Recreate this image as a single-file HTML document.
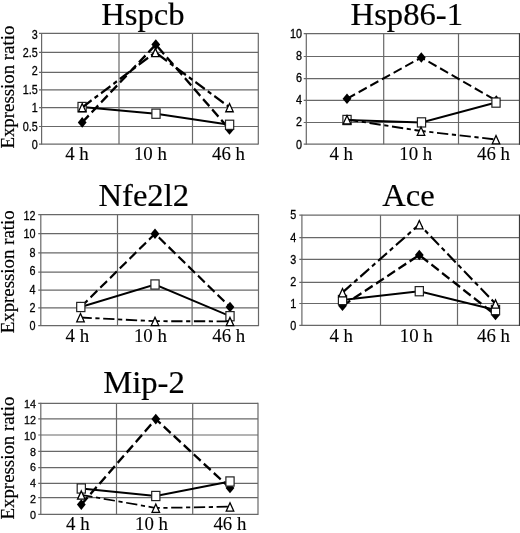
<!DOCTYPE html><html><head><meta charset="utf-8"><title>chart</title><style>html,body{margin:0;padding:0;background:#fff}svg{display:block;filter:grayscale(1)}text{fill:#000}.bd{stroke:#000;stroke-width:.2px}.bx{stroke:#000;stroke-width:.1px}.tk text{stroke:#000;stroke-width:.25px}.se{font-family:"Liberation Serif",serif}.sa{font-family:"Liberation Sans",sans-serif}</style></head><body>
<svg width="520" height="533" viewBox="0 0 520 533">
<rect width="520" height="533" fill="#fff"/>
<g stroke="#686868" stroke-width="1.2" fill="none">
<line x1="39.0" y1="144.10" x2="258.3" y2="144.10"/>
<line x1="39.0" y1="126.50" x2="258.3" y2="126.50"/>
<line x1="39.0" y1="107.60" x2="258.3" y2="107.60"/>
<line x1="39.0" y1="89.90" x2="258.3" y2="89.90"/>
<line x1="39.0" y1="72.30" x2="258.3" y2="72.30"/>
<line x1="39.0" y1="52.40" x2="258.3" y2="52.40"/>
<line x1="39.0" y1="33.40" x2="258.3" y2="33.40"/>
<line x1="41.6" y1="32.9" x2="41.6" y2="144.6"/>
<line x1="119.0" y1="33.4" x2="119.0" y2="144.1"/>
<line x1="192.5" y1="33.4" x2="192.5" y2="144.1"/>
<line x1="258.3" y1="32.9" x2="258.3" y2="144.6"/>
</g>
<g class="sa tk" font-size="10.8" text-anchor="end">
<text transform="translate(37.8,149.07) scale(1,1.17)">0</text>
<text transform="translate(37.8,130.67) scale(1,1.17)">0.5</text>
<text transform="translate(37.8,112.26) scale(1,1.17)">1</text>
<text transform="translate(37.8,93.85) scale(1,1.17)">1.5</text>
<text transform="translate(37.8,75.44) scale(1,1.17)">2</text>
<text transform="translate(37.8,57.03) scale(1,1.17)">2.5</text>
<text transform="translate(37.8,38.62) scale(1,1.17)">3</text>
</g>
<text class="se bd" transform="translate(142.9,25) scale(1.02,1)" font-size="32" text-anchor="middle">Hspcb</text>
<text class="se bx" transform="translate(77,160.0) scale(1.048,1)" font-size="18" text-anchor="middle">4 h</text>
<text class="se bx" transform="translate(150.4,160.0) scale(1.048,1)" font-size="18" text-anchor="middle">10 h</text>
<text class="se bx" transform="translate(228.5,160.0) scale(1.048,1)" font-size="18" text-anchor="middle">46 h</text>
<text class="se bd" transform="translate(14.3,148.6) rotate(-90)" font-size="18.85">Expression ratio</text>
<g transform="scale(1,1.12)"><polyline points="82.2,109.29 155.8,39.82 229.5,115.54" fill="none" stroke="#000" stroke-width="2.26" stroke-dasharray="9 4"/></g>
<path d="M82.2,117.1 L86.6,122.4 L82.2,127.7 L77.8,122.4Z" fill="#000"/>
<path d="M155.8,39.3 L160.2,44.6 L155.8,49.9 L151.4,44.6Z" fill="#000"/>
<path d="M229.5,124.1 L233.9,129.4 L229.5,134.7 L225.1,129.4Z" fill="#000"/>
<g transform="scale(1,1.12)"><polyline points="82.1,95.54 156.0,101.52 229.6,111.43" fill="none" stroke="#000" stroke-width="1.73"/></g>
<rect x="78.00" y="102.40" width="8.2" height="9.2" fill="#fff" stroke="#222" stroke-width="1.2"/>
<rect x="151.90" y="109.10" width="8.2" height="9.2" fill="#fff" stroke="#222" stroke-width="1.2"/>
<rect x="225.50" y="120.20" width="8.2" height="9.2" fill="#fff" stroke="#222" stroke-width="1.2"/>
<g transform="scale(1,1.12)"><polyline points="82.2,95.89 155.4,46.70 229.5,95.89" fill="none" stroke="#000" stroke-width="2.13" stroke-dasharray="11.3 3.6 4.2 3.6"/></g>
<path d="M82.2,103.5 L85.95,111.75 L78.45,111.75Z" fill="#fff" stroke="#000" stroke-width="1.3"/>
<path d="M155.4,48.4 L159.15,56.65 L151.65,56.65Z" fill="#fff" stroke="#000" stroke-width="1.3"/>
<path d="M229.5,103.5 L233.25,111.75 L225.75,111.75Z" fill="#fff" stroke="#000" stroke-width="1.3"/>
<g stroke="#686868" stroke-width="1.2" fill="none">
<line x1="303.7" y1="144.15" x2="520.0" y2="144.15"/>
<line x1="303.7" y1="122.50" x2="520.0" y2="122.50"/>
<line x1="303.7" y1="100.30" x2="520.0" y2="100.30"/>
<line x1="303.7" y1="78.70" x2="520.0" y2="78.70"/>
<line x1="303.7" y1="56.50" x2="520.0" y2="56.50"/>
<line x1="303.7" y1="33.70" x2="520.0" y2="33.70"/>
<line x1="306.3" y1="33.2" x2="306.3" y2="144.65"/>
<line x1="383.7" y1="33.7" x2="383.7" y2="144.15"/>
<line x1="458.5" y1="33.7" x2="458.5" y2="144.15"/>
<line x1="519.5" y1="33.2" x2="519.5" y2="144.65" stroke="#3a3a3a" stroke-width="1.2"/>
</g>
<g class="sa tk" font-size="10.8" text-anchor="end">
<text transform="translate(302.1,148.52) scale(1,1.17)">0</text>
<text transform="translate(302.1,126.47) scale(1,1.17)">2</text>
<text transform="translate(302.1,104.42) scale(1,1.17)">4</text>
<text transform="translate(302.1,82.37) scale(1,1.17)">6</text>
<text transform="translate(302.1,60.32) scale(1,1.17)">8</text>
<text transform="translate(302.1,38.27) scale(1,1.17)">10</text>
</g>
<text class="se bd" transform="translate(406.8,25) scale(1.02,1)" font-size="32" text-anchor="middle">Hsp86-1</text>
<text class="se bx" transform="translate(341.2,160.0) scale(1.048,1)" font-size="18" text-anchor="middle">4 h</text>
<text class="se bx" transform="translate(415.7,160.0) scale(1.048,1)" font-size="18" text-anchor="middle">10 h</text>
<text class="se bx" transform="translate(493.5,160.0) scale(1.048,1)" font-size="18" text-anchor="middle">46 h</text>
<g transform="scale(1,1.12)"><polyline points="347.0,88.12 421.3,51.34 496.3,89.82" fill="none" stroke="#000" stroke-width="1.89" stroke-dasharray="9 4"/></g>
<path d="M347.0,93.4 L351.4,98.7 L347.0,104.0 L342.6,98.7Z" fill="#000"/>
<path d="M421.3,52.2 L425.7,57.5 L421.3,62.8 L416.9,57.5Z" fill="#000"/>
<path d="M496.3,95.3 L500.7,100.6 L496.3,105.9 L491.9,100.6Z" fill="#000"/>
<g transform="scale(1,1.12)"><polyline points="347.0,107.14 421.5,109.29 496.0,91.61" fill="none" stroke="#000" stroke-width="1.82"/></g>
<rect x="342.90" y="115.40" width="8.2" height="9.2" fill="#fff" stroke="#222" stroke-width="1.2"/>
<rect x="417.40" y="117.80" width="8.2" height="9.2" fill="#fff" stroke="#222" stroke-width="1.2"/>
<rect x="491.90" y="98.00" width="8.2" height="9.2" fill="#fff" stroke="#222" stroke-width="1.2"/>
<g transform="scale(1,1.12)"><polyline points="347.0,106.70 421.0,116.96 496.0,124.55" fill="none" stroke="#000" stroke-width="1.67" stroke-dasharray="11.3 3.6 4.2 3.6"/></g>
<path d="M347.0,115.6 L350.75,123.85 L343.25,123.85Z" fill="#fff" stroke="#000" stroke-width="1.3"/>
<path d="M421.0,127.1 L424.75,135.35 L417.25,135.35Z" fill="#fff" stroke="#000" stroke-width="1.3"/>
<path d="M496.0,135.6 L499.75,143.85 L492.25,143.85Z" fill="#fff" stroke="#000" stroke-width="1.3"/>
<g stroke="#686868" stroke-width="1.2" fill="none">
<line x1="38.2" y1="325.60" x2="258.5" y2="325.60"/>
<line x1="38.2" y1="307.90" x2="258.5" y2="307.90"/>
<line x1="38.2" y1="290.20" x2="258.5" y2="290.20"/>
<line x1="38.2" y1="272.10" x2="258.5" y2="272.10"/>
<line x1="38.2" y1="252.95" x2="258.5" y2="252.95"/>
<line x1="38.2" y1="233.70" x2="258.5" y2="233.70"/>
<line x1="38.2" y1="214.65" x2="258.5" y2="214.65"/>
<line x1="40.8" y1="214.15" x2="40.8" y2="326.1"/>
<line x1="117.5" y1="214.65" x2="117.5" y2="325.6"/>
<line x1="192.1" y1="214.65" x2="192.1" y2="325.6"/>
<line x1="258.5" y1="214.15" x2="258.5" y2="326.1"/>
</g>
<g class="sa tk" font-size="10.8" text-anchor="end">
<text transform="translate(35.5,330.42) scale(1,1.17)">0</text>
<text transform="translate(35.5,312.02) scale(1,1.17)">2</text>
<text transform="translate(35.5,293.62) scale(1,1.17)">4</text>
<text transform="translate(35.5,275.22) scale(1,1.17)">6</text>
<text transform="translate(35.5,256.82) scale(1,1.17)">8</text>
<text transform="translate(35.5,238.42) scale(1,1.17)">10</text>
<text transform="translate(35.5,220.02) scale(1,1.17)">12</text>
</g>
<text class="se bd" transform="translate(143.75,206.2) scale(1.02,1)" font-size="32" text-anchor="middle">Nfe2l2</text>
<text class="se bx" transform="translate(77.4,341.9) scale(1.048,1)" font-size="18" text-anchor="middle">4 h</text>
<text class="se bx" transform="translate(150.4,341.9) scale(1.048,1)" font-size="18" text-anchor="middle">10 h</text>
<text class="se bx" transform="translate(228.7,341.9) scale(1.048,1)" font-size="18" text-anchor="middle">46 h</text>
<text class="se bd" transform="translate(14.3,333.3) rotate(-90)" font-size="18.85">Expression ratio</text>
<g transform="scale(1,1.12)"><polyline points="80.8,274.11 155.0,208.66 230.0,274.11" fill="none" stroke="#000" stroke-width="2.08" stroke-dasharray="9 4"/></g>
<path d="M80.8,301.7 L85.2,307.0 L80.8,312.3 L76.4,307.0Z" fill="#000"/>
<path d="M155.0,228.4 L159.4,233.7 L155.0,239.0 L150.6,233.7Z" fill="#000"/>
<path d="M230.0,301.7 L234.4,307.0 L230.0,312.3 L225.6,307.0Z" fill="#000"/>
<g transform="scale(1,1.12)"><polyline points="80.8,274.11 155.0,254.02 230.0,282.32" fill="none" stroke="#000" stroke-width="1.73"/></g>
<rect x="76.70" y="302.40" width="8.2" height="9.2" fill="#fff" stroke="#222" stroke-width="1.2"/>
<rect x="150.90" y="279.90" width="8.2" height="9.2" fill="#fff" stroke="#222" stroke-width="1.2"/>
<rect x="225.90" y="311.60" width="8.2" height="9.2" fill="#fff" stroke="#222" stroke-width="1.2"/>
<g transform="scale(1,1.12)"><polyline points="80.5,283.48 155.0,286.79 230.0,286.88" fill="none" stroke="#000" stroke-width="1.62" stroke-dasharray="11.3 3.6 4.2 3.6"/></g>
<path d="M80.5,313.6 L84.25,321.85 L76.75,321.85Z" fill="#fff" stroke="#000" stroke-width="1.3"/>
<path d="M155.0,317.3 L158.75,325.55 L151.25,325.55Z" fill="#fff" stroke="#000" stroke-width="1.3"/>
<path d="M230.0,317.4 L233.75,325.65 L226.25,325.65Z" fill="#fff" stroke="#000" stroke-width="1.3"/>
<g stroke="#686868" stroke-width="1.2" fill="none">
<line x1="299.3" y1="325.40" x2="520.0" y2="325.40"/>
<line x1="299.3" y1="303.50" x2="520.0" y2="303.50"/>
<line x1="299.3" y1="282.40" x2="520.0" y2="282.40"/>
<line x1="299.3" y1="259.40" x2="520.0" y2="259.40"/>
<line x1="299.3" y1="237.70" x2="520.0" y2="237.70"/>
<line x1="299.3" y1="215.20" x2="520.0" y2="215.20"/>
<line x1="301.9" y1="214.7" x2="301.9" y2="325.9"/>
<line x1="380.5" y1="215.2" x2="380.5" y2="325.4"/>
<line x1="457.5" y1="215.2" x2="457.5" y2="325.4"/>
<line x1="519.5" y1="214.7" x2="519.5" y2="325.9" stroke="#3a3a3a" stroke-width="1.2"/>
</g>
<g class="sa tk" font-size="10.8" text-anchor="end">
<text transform="translate(296.3,330.22) scale(1,1.17)">0</text>
<text transform="translate(296.3,308.04) scale(1,1.17)">1</text>
<text transform="translate(296.3,285.86) scale(1,1.17)">2</text>
<text transform="translate(296.3,263.68) scale(1,1.17)">3</text>
<text transform="translate(296.3,241.50) scale(1,1.17)">4</text>
<text transform="translate(296.3,219.32) scale(1,1.17)">5</text>
</g>
<text class="se bd" transform="translate(408.5,205.8) scale(1.02,1)" font-size="32" text-anchor="middle">Ace</text>
<text class="se bx" transform="translate(341.2,341.9) scale(1.048,1)" font-size="18" text-anchor="middle">4 h</text>
<text class="se bx" transform="translate(416.3,341.9) scale(1.048,1)" font-size="18" text-anchor="middle">10 h</text>
<text class="se bx" transform="translate(493.5,341.9) scale(1.048,1)" font-size="18" text-anchor="middle">46 h</text>
<g transform="scale(1,1.12)"><polyline points="342.5,273.04 419.3,227.68 495.5,281.25" fill="none" stroke="#000" stroke-width="2.17" stroke-dasharray="9 4"/></g>
<path d="M342.5,300.5 L346.9,305.8 L342.5,311.1 L338.1,305.8Z" fill="#000"/>
<path d="M419.3,249.7 L423.7,255.0 L419.3,260.3 L414.9,255.0Z" fill="#000"/>
<path d="M495.5,309.7 L499.9,315.0 L495.5,320.3 L491.1,315.0Z" fill="#000"/>
<g transform="scale(1,1.12)"><polyline points="342.5,267.86 419.3,260.00 495.5,276.79" fill="none" stroke="#000" stroke-width="1.73"/></g>
<rect x="338.40" y="295.40" width="8.2" height="9.2" fill="#fff" stroke="#222" stroke-width="1.2"/>
<rect x="415.20" y="286.60" width="8.2" height="9.2" fill="#fff" stroke="#222" stroke-width="1.2"/>
<rect x="491.40" y="305.40" width="8.2" height="9.2" fill="#fff" stroke="#222" stroke-width="1.2"/>
<g transform="scale(1,1.12)"><polyline points="342.5,261.16 419.3,200.45 495.5,271.16" fill="none" stroke="#000" stroke-width="2.04" stroke-dasharray="11.3 3.6 4.2 3.6"/></g>
<path d="M342.5,288.6 L346.25,296.85 L338.75,296.85Z" fill="#fff" stroke="#000" stroke-width="1.3"/>
<path d="M419.3,220.6 L423.05,228.85 L415.55,228.85Z" fill="#fff" stroke="#000" stroke-width="1.3"/>
<path d="M495.5,299.8 L499.25,308.05 L491.75,308.05Z" fill="#fff" stroke="#000" stroke-width="1.3"/>
<g stroke="#686868" stroke-width="1.2" fill="none">
<line x1="38.2" y1="514.40" x2="258.0" y2="514.40"/>
<line x1="38.2" y1="497.70" x2="258.0" y2="497.70"/>
<line x1="38.2" y1="483.30" x2="258.0" y2="483.30"/>
<line x1="38.2" y1="467.70" x2="258.0" y2="467.70"/>
<line x1="38.2" y1="451.30" x2="258.0" y2="451.30"/>
<line x1="38.2" y1="435.00" x2="258.0" y2="435.00"/>
<line x1="38.2" y1="418.90" x2="258.0" y2="418.90"/>
<line x1="38.2" y1="403.30" x2="258.0" y2="403.30"/>
<line x1="40.8" y1="402.8" x2="40.8" y2="514.9"/>
<line x1="116.5" y1="403.3" x2="116.5" y2="514.4"/>
<line x1="192.7" y1="403.3" x2="192.7" y2="514.4"/>
<line x1="258.0" y1="402.8" x2="258.0" y2="514.9"/>
</g>
<g class="sa tk" font-size="10.8" text-anchor="end">
<text transform="translate(36.1,518.71) scale(1,1.09)">0</text>
<text transform="translate(36.1,502.94) scale(1,1.09)">2</text>
<text transform="translate(36.1,487.17) scale(1,1.09)">4</text>
<text transform="translate(36.1,471.40) scale(1,1.09)">6</text>
<text transform="translate(36.1,455.63) scale(1,1.09)">8</text>
<text transform="translate(36.1,439.86) scale(1,1.09)">10</text>
<text transform="translate(36.1,424.09) scale(1,1.09)">12</text>
<text transform="translate(36.1,408.31) scale(1,1.09)">14</text>
</g>
<text class="se bd" transform="translate(144,393.4) scale(1.02,1)" font-size="32" text-anchor="middle">Mip-2</text>
<text class="se bx" transform="translate(77.9,529.8) scale(1.048,1)" font-size="18" text-anchor="middle">4 h</text>
<text class="se bx" transform="translate(151.5,529.8) scale(1.048,1)" font-size="18" text-anchor="middle">10 h</text>
<text class="se bx" transform="translate(229.9,529.8) scale(1.048,1)" font-size="18" text-anchor="middle">46 h</text>
<text class="se bd" transform="translate(14.3,519.5) rotate(-90)" font-size="18.85">Expression ratio</text>
<g transform="scale(1,1.12)"><polyline points="81.3,450.54 155.8,374.20 230.0,435.71" fill="none" stroke="#000" stroke-width="2.26" stroke-dasharray="9 4"/></g>
<path d="M81.3,499.3 L85.7,504.6 L81.3,509.9 L76.9,504.6Z" fill="#000"/>
<path d="M155.8,413.8 L160.2,419.1 L155.8,424.4 L151.4,419.1Z" fill="#000"/>
<path d="M230.0,482.7 L234.4,488.0 L230.0,493.3 L225.6,488.0Z" fill="#000"/>
<g transform="scale(1,1.12)"><polyline points="81.3,436.16 155.8,442.86 230.0,429.91" fill="none" stroke="#000" stroke-width="1.73"/></g>
<rect x="77.20" y="483.90" width="8.2" height="9.2" fill="#fff" stroke="#222" stroke-width="1.2"/>
<rect x="151.70" y="491.40" width="8.2" height="9.2" fill="#fff" stroke="#222" stroke-width="1.2"/>
<rect x="225.90" y="476.90" width="8.2" height="9.2" fill="#fff" stroke="#222" stroke-width="1.2"/>
<g transform="scale(1,1.12)"><polyline points="81.3,441.79 155.8,453.57 230.0,452.41" fill="none" stroke="#000" stroke-width="1.57" stroke-dasharray="11.3 3.6 4.2 3.6"/></g>
<path d="M81.3,490.9 L85.05,499.15 L77.55,499.15Z" fill="#fff" stroke="#000" stroke-width="1.3"/>
<path d="M155.8,504.1 L159.55,512.35 L152.05,512.35Z" fill="#fff" stroke="#000" stroke-width="1.3"/>
<path d="M230.0,502.8 L233.75,511.05 L226.25,511.05Z" fill="#fff" stroke="#000" stroke-width="1.3"/>
</svg></body></html>
